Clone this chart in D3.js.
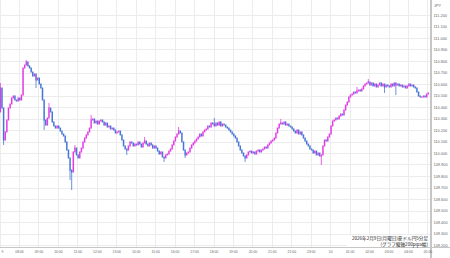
<!DOCTYPE html>
<html>
<head>
<meta charset="utf-8">
<script src="https://cdn.jsdelivr.net/npm/d3@7"></script>
<style>
  html, body { margin: 0; padding: 0; background: #fff; }
  svg { display: block; font-family: "Liberation Sans", Arial, sans-serif; }
</style>
</head>
<body>
<svg id="chart" width="450" height="258"></svg>
<script>
// 5分足 (2026-02-09 07:00 〜 02-10 05:05)
const startTime = new Date(Date.UTC(2026, 1, 9, 7, 0));
const endTime = new Date(Date.UTC(2026, 1, 10, 5, 5));
const candleMinutes = 5;

const firstOpen = 110.357;

// closes, one per candle, 12 per hour
const closes = [
  // 07
  110.565, 110.391, 110.113, 110.183, 110.287, 110.391, 110.426, 110.478, 110.496, 110.461, 110.452, 110.478,
  // 08
  110.461, 110.504, 110.739, 110.765, 110.791, 110.757, 110.739, 110.704, 110.669, 110.687, 110.635, 110.652,
  // 09
  110.600, 110.565, 110.461, 110.287, 110.243, 110.304, 110.391, 110.357, 110.270, 110.235, 110.217, 110.235,
  // 10
  110.217, 110.191, 110.165, 110.148, 110.096, 110.026, 109.957, 109.852, 109.835, 110.009, 110.043, 109.983,
  // 11
  109.957, 110.009, 110.043, 110.096, 110.130, 110.157, 110.183, 110.217, 110.287, 110.296, 110.261, 110.278,
  // 12
  110.252, 110.278, 110.287, 110.270, 110.243, 110.261, 110.226, 110.235, 110.209, 110.217, 110.200, 110.174,
  // 13
  110.183, 110.191, 110.157, 110.113, 110.061, 110.035, 110.026, 110.061, 110.096, 110.087, 110.061, 110.078,
  // 14
  110.070, 110.096, 110.078, 110.052, 110.087, 110.104, 110.078, 110.061, 110.087, 110.070, 110.043, 110.061,
  // 15
  110.043, 110.017, 109.991, 110.009, 109.965, 109.957, 109.983, 109.991, 110.017, 110.035, 110.070, 110.104,
  // 16
  110.139, 110.165, 110.191, 110.174, 110.096, 110.026, 109.983, 110.000, 110.009, 110.043, 110.070, 110.087,
  // 17
  110.104, 110.122, 110.139, 110.165, 110.148, 110.183, 110.200, 110.209, 110.235, 110.226, 110.261, 110.252,
  // 18
  110.235, 110.261, 110.243, 110.270, 110.235, 110.252, 110.243, 110.226, 110.217, 110.200, 110.183, 110.165,
  // 19
  110.148, 110.130, 110.096, 110.061, 110.026, 110.000, 109.974, 109.957, 109.983, 110.009, 110.017, 110.000,
  // 20
  110.009, 109.991, 110.017, 110.026, 110.009, 110.026, 110.035, 110.052, 110.043, 110.070, 110.087, 110.104,
  // 21
  110.113, 110.130, 110.174, 110.217, 110.252, 110.261, 110.252, 110.270, 110.243, 110.252, 110.235, 110.226,
  // 22
  110.209, 110.191, 110.174, 110.200, 110.165, 110.183, 110.157, 110.130, 110.104, 110.078, 110.061, 110.035,
  // 23
  110.026, 110.000, 110.017, 109.983, 110.000, 109.974, 109.983, 110.061, 110.113, 110.104, 110.139, 110.165,
  // 00
  110.235, 110.278, 110.287, 110.304, 110.296, 110.322, 110.339, 110.330, 110.374, 110.417, 110.443, 110.487,
  // 01
  110.504, 110.513, 110.530, 110.522, 110.539, 110.548, 110.539, 110.557, 110.583, 110.600, 110.609, 110.617,
  // 02
  110.591, 110.609, 110.583, 110.600, 110.574, 110.591, 110.609, 110.583, 110.600, 110.574, 110.591, 110.583,
  // 03
  110.574, 110.600, 110.583, 110.609, 110.591, 110.600, 110.583, 110.591, 110.574, 110.583, 110.565, 110.583,
  // 04
  110.600, 110.583, 110.591, 110.574, 110.565, 110.530, 110.496, 110.487, 110.487, 110.496, 110.487, 110.513,
  // 05
  110.522
];

// wicks that stick out of the bodies: [candle index, price]
const wickHighs = [[0, 110.609], [16, 110.809], [30, 110.435], [46, 110.070], [56, 110.330], [89, 110.139],
  [110, 110.226], [132, 110.304], [173, 110.296], [220, 110.574], [227, 110.643]];
const wickLows = [[2, 110.070], [22, 110.565], [27, 110.200], [43, 109.765], [44, 109.678], [78, 109.983],
  [101, 109.922], [114, 109.957], [151, 109.922], [198, 109.896], [237, 110.522], [244, 110.504]];

const yTicks = [109.2, 109.3, 109.4, 109.5, 109.6, 109.7, 109.8, 109.9, 110.0, 110.1, 110.2,
  110.3, 110.4, 110.5, 110.6, 110.7, 110.8, 110.9, 111.0, 111.1, 111.2];
const xLabels = ["9", "08:00", "09:00", "10:00", "11:00", "12:00", "13:00", "14:00", "15:00", "16:00",
  "17:00", "18:00", "19:00", "20:00", "21:00", "22:00", "23:00", "10", "01:00", "02:00", "03:00", "04:00", "05:00"];

const titleLines = ["2026年2月9日(月曜日)豪ドル円5分足", "(グラフ縦軸200pips幅)"];

const upColor = "#e23ae4";
const downColor = "#4676d4";
const gridColor = "#ececec";
const axisColor = "#c6c6c6";

const svg = d3.select("#chart");
const plotRight = 430;
const plotBottom = 247;

const x = d3.scaleUtc().domain([startTime, endTime]).range([-0.45, 429.1]);
const y = d3.scaleLinear().domain([109.2, 111.2]).range([245, 15]);

const hourTicks = d3.utcHour.range(startTime, endTime);

// grid
const grid = svg.append("g");
grid.selectAll(".hg")
  .data(yTicks)
  .enter().append("line")
  .attr("x1", 0).attr("x2", plotRight)
  .attr("y1", d => Math.round(y(d)) + 0.5)
  .attr("y2", d => Math.round(y(d)) + 0.5)
  .attr("stroke", gridColor);
grid.selectAll(".vg")
  .data(hourTicks)
  .enter().append("line")
  .attr("x1", d => Math.round(x(d)) + 0.5)
  .attr("x2", d => Math.round(x(d)) + 0.5)
  .attr("y1", 0).attr("y2", plotBottom)
  .attr("stroke", gridColor);

// candles
const candles = closes.map((c, i) => {
  const o = i === 0 ? firstOpen : closes[i - 1];
  const t = new Date(startTime.getTime() + (i * candleMinutes + candleMinutes / 2) * 60000);
  return { t, o, c, up: c >= o };
});

const cg = svg.append("g");
const bodyW = 1.5;

cg.selectAll(".wick-h")
  .data(wickHighs)
  .enter().append("line")
  .attr("x1", d => x(candles[d[0]].t)).attr("x2", d => x(candles[d[0]].t))
  .attr("y1", d => y(d[1]))
  .attr("y2", d => y(Math.max(candles[d[0]].o, candles[d[0]].c)))
  .attr("stroke", d => candles[d[0]].up ? upColor : downColor)
  .attr("stroke-width", 0.8);

cg.selectAll(".wick-l")
  .data(wickLows)
  .enter().append("line")
  .attr("x1", d => x(candles[d[0]].t)).attr("x2", d => x(candles[d[0]].t))
  .attr("y1", d => y(d[1]))
  .attr("y2", d => y(Math.min(candles[d[0]].o, candles[d[0]].c)))
  .attr("stroke", d => candles[d[0]].up ? upColor : downColor)
  .attr("stroke-width", 0.8);

cg.selectAll("rect")
  .data(candles)
  .enter().append("rect")
  .attr("x", d => x(d.t) - bodyW / 2)
  .attr("width", bodyW)
  .attr("y", d => y(Math.max(d.o, d.c)) - 0.5)
  .attr("height", d => Math.max(1.2, Math.abs(y(d.o) - y(d.c)) + 1))
  .attr("fill", d => d.up ? upColor : downColor);

// axes lines
svg.append("line")
  .attr("x1", 0).attr("x2", 450)
  .attr("y1", plotBottom + 0.5).attr("y2", plotBottom + 0.5)
  .attr("stroke", axisColor);
svg.append("rect")
  .attr("x", plotRight).attr("y", 0)
  .attr("width", 2).attr("height", 258)
  .attr("fill", axisColor);

// right axis labels
const yAxis = svg.append("g")
  .attr("transform", `translate(${plotRight + 2},0)`)
  .call(d3.axisRight(y).tickValues(yTicks).tickFormat(d3.format(".3f")).tickSize(0).tickPadding(1.5));
yAxis.select(".domain").remove();
yAxis.selectAll("text")
  .attr("font-size", 3.9)
  .attr("font-family", "Liberation Sans, Arial, sans-serif")
  .attr("fill", "#666");

svg.append("text")
  .attr("x", 434).attr("y", 7)
  .attr("font-size", 3.9)
  .attr("fill", "#666")
  .text("JPY");

// bottom axis labels
const xAxis = svg.append("g")
  .attr("transform", `translate(0,${plotBottom + 2})`)
  .call(d3.axisBottom(x).tickValues(hourTicks).tickFormat((d, i) => xLabels[i]).tickSize(0).tickPadding(1.5));
xAxis.select(".domain").remove();
xAxis.selectAll("text")
  .attr("font-size", 3.4)
  .attr("font-family", "Liberation Sans, Arial, sans-serif")
  .attr("fill", "#666");
xAxis.selectAll(".tick")
  .filter((d, i) => i === 0)
  .attr("transform", "translate(2.5,0)");

// caption
const cap = svg.append("g");
cap.append("rect")
  .attr("x", 347).attr("y", 235.5)
  .attr("width", 82).attr("height", 11)
  .attr("fill", "#fff");
cap.selectAll("text")
  .data(titleLines)
  .enter().append("text")
  .attr("x", 428)
  .attr("y", (d, i) => 240.3 + i * 5.6)
  .attr("text-anchor", "end")
  .attr("font-size", 4.6)
  .attr("font-family", "Noto Sans CJK JP, sans-serif")
  .attr("fill", "#222")
  .text(d => d);
</script>
</body>
</html>
